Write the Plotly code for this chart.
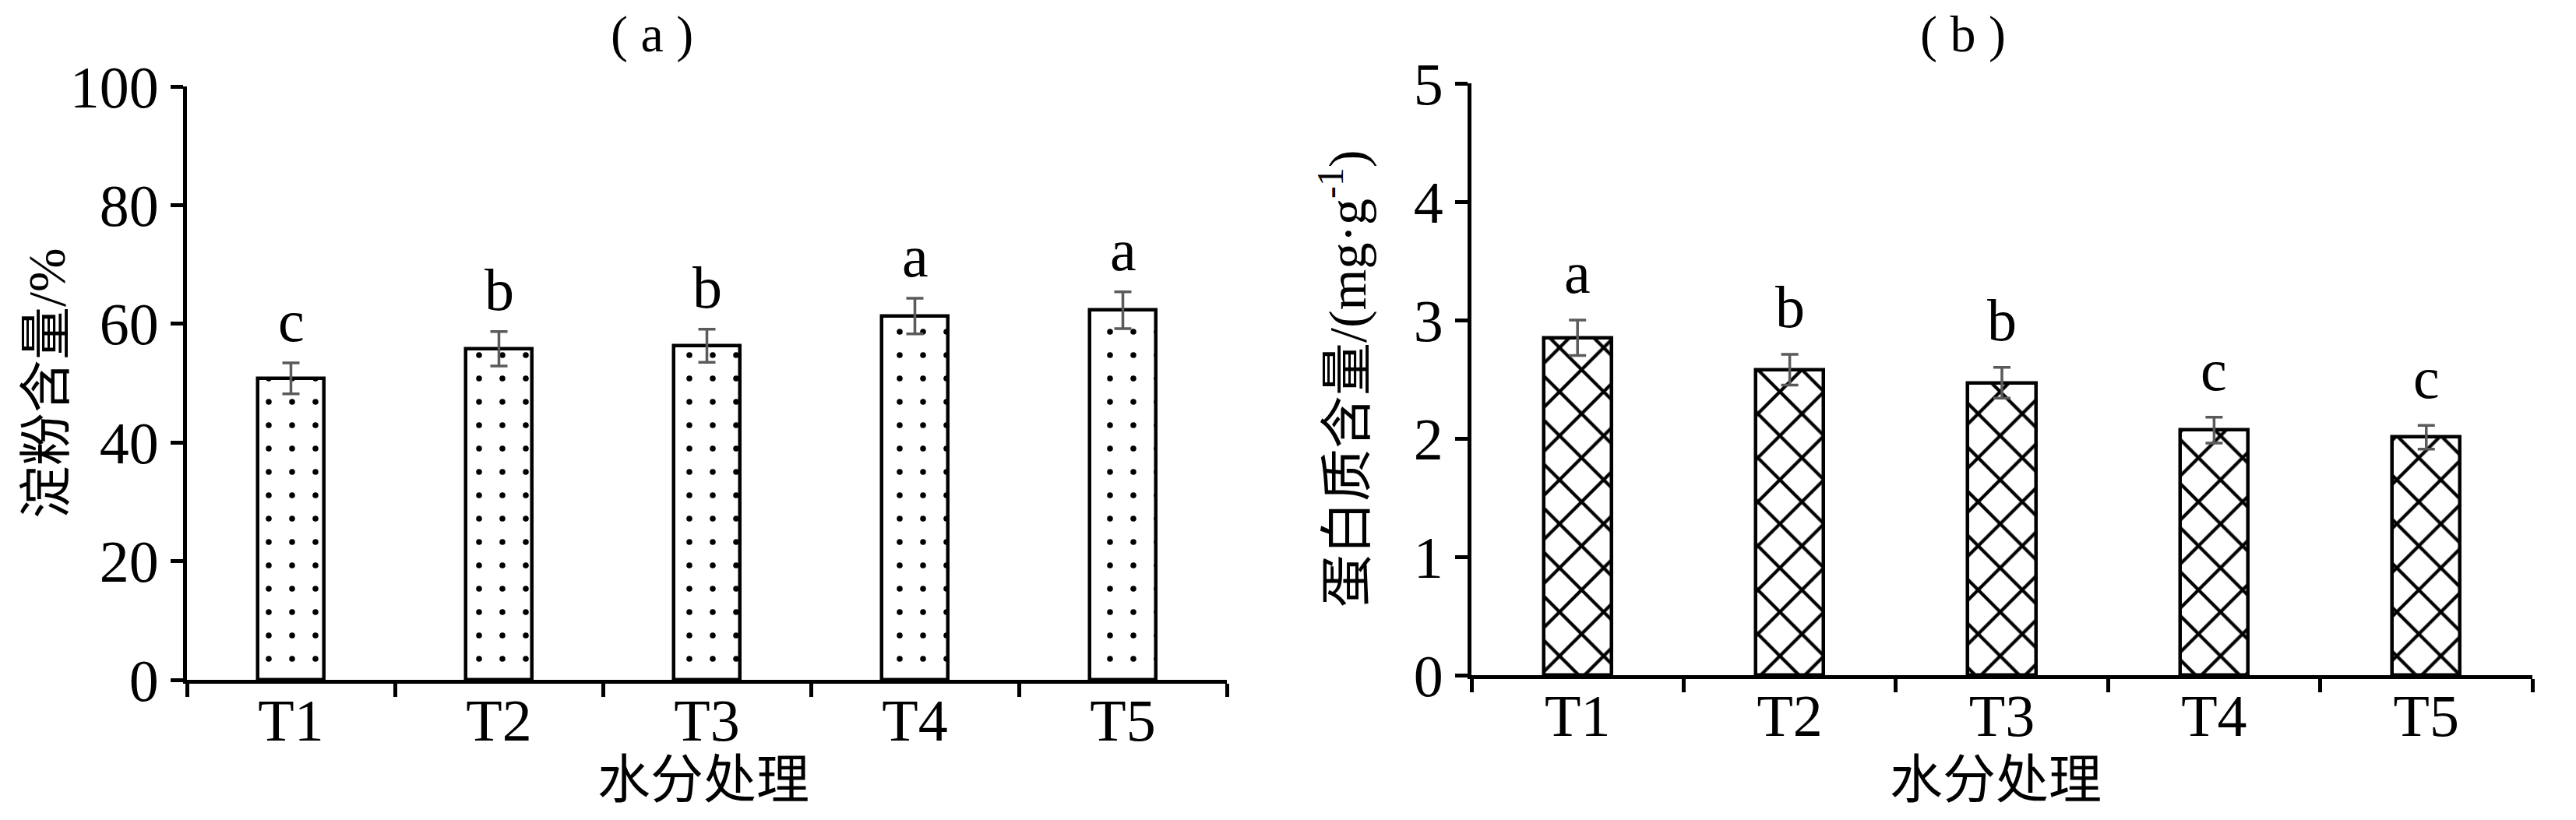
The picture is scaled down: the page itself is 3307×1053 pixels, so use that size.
import plotly.graph_objects as go

categories = ["T1", "T2", "T3", "T4", "T5"]
starch = [50.8, 55.8, 56.3, 61.3, 62.3]
starch_err = [2.6, 2.9, 2.8, 3.0, 3.1]
starch_sig = ["c", "b", "b", "a", "a"]
protein = [2.85, 2.58, 2.47, 2.07, 2.01]
protein_err = [0.15, 0.13, 0.13, 0.11, 0.10]
protein_sig = ["a", "b", "b", "c", "c"]

W, H = 3307, 1053
OFF = 8  # default page body margin
SERIF = "Liberation Serif, Noto Sans CJK SC"
FS = 76
CJK = 68


def px(x):
    return (x - OFF) / W


def py(y):
    return 1 - (y - OFF) / H


fig = go.Figure()

fig.add_trace(go.Bar(
    x=categories, y=starch, width=0.315,
    marker=dict(color="white", line=dict(color="black", width=4.5),
                pattern=dict(shape=".", fgcolor="black", bgcolor="white", size=30, solidity=0.05)),
    error_y=dict(type="data", array=starch_err, visible=True, color="#5a5a5a", thickness=3.5, width=11),
    xaxis="x", yaxis="y", showlegend=False,
))
fig.add_trace(go.Bar(
    x=categories, y=protein, width=0.32,
    marker=dict(color="white", line=dict(color="black", width=4.5),
                pattern=dict(shape="x", fgcolor="black", bgcolor="white", size=40, solidity=0.2)),
    error_y=dict(type="data", array=protein_err, visible=True, color="#5a5a5a", thickness=3.5, width=11),
    xaxis="x2", yaxis="y2", showlegend=False,
))

axis_common = dict(showline=True, linecolor="black", linewidth=5, ticks="outside",
                   tickcolor="black", tickwidth=5, showgrid=False, zeroline=False, automargin=False,
                   tickfont=dict(family=SERIF, size=FS, color="black"))

fig.update_layout(
    template="none",
    width=W, height=H, margin=dict(l=0, r=0, t=0, b=0, pad=0),
    paper_bgcolor="white", plot_bgcolor="white",
    bargap=0,
    xaxis=dict(domain=[px(240), px(1575)], anchor="y", tickson="boundaries", ticklen=17,
               ticklabelstandoff=-18, **axis_common),
    yaxis=dict(domain=[py(873), py(111)], anchor="x", range=[0, 100], tickvals=[0, 20, 40, 60, 80, 100],
               ticklen=16, **axis_common),
    xaxis2=dict(domain=[px(1889), px(3251)], anchor="y2", tickson="boundaries", ticklen=17,
                ticklabelstandoff=-18, **axis_common),
    yaxis2=dict(domain=[py(867), py(107)], anchor="x2", range=[0, 5], tickvals=[0, 1, 2, 3, 4, 5],
                ticklen=16, **axis_common),
)

ann = []
for c, v, e, s in zip(categories, starch, starch_err, starch_sig):
    ann.append(dict(x=c, y=v + e, xref="x", yref="y", text=s, showarrow=False, yanchor="bottom",
                    yshift=10, font=dict(family=SERIF, size=FS, color="black")))
for c, v, e, s in zip(categories, protein, protein_err, protein_sig):
    ann.append(dict(x=c, y=v + e, xref="x2", yref="y2", text=s, showarrow=False, yanchor="bottom",
                    yshift=17, font=dict(family=SERIF, size=FS, color="black")))

center = dict(xanchor="center", yanchor="middle", showarrow=False, xref="paper", yref="paper")
# panel titles
ann.append(dict(x=px(837), y=py(44), text="( a )", font=dict(family=SERIF, size=66, color="black"), **center))
ann.append(dict(x=px(2520), y=py(44), text="( b )", font=dict(family=SERIF, size=66, color="black"), **center))
# x titles
ann.append(dict(x=px(903), y=py(1002), text="水分处理", font=dict(family=SERIF, size=CJK, color="black"), **center))
ann.append(dict(x=px(2562), y=py(1002), text="水分处理", font=dict(family=SERIF, size=CJK, color="black"), **center))
# y titles
ann.append(dict(x=px(60), y=py(492), text="淀粉含量/%", textangle=-90,
                font=dict(family=SERIF, size=CJK, color="black"), **center))
ann.append(dict(x=px(1725), y=py(487), text="蛋白质含量/(mg·g<sup>-1</sup>)", textangle=-90,
                font=dict(family=SERIF, size=CJK, color="black"), **center))

fig.update_layout(annotations=ann)
fig.write_html("out.html")
